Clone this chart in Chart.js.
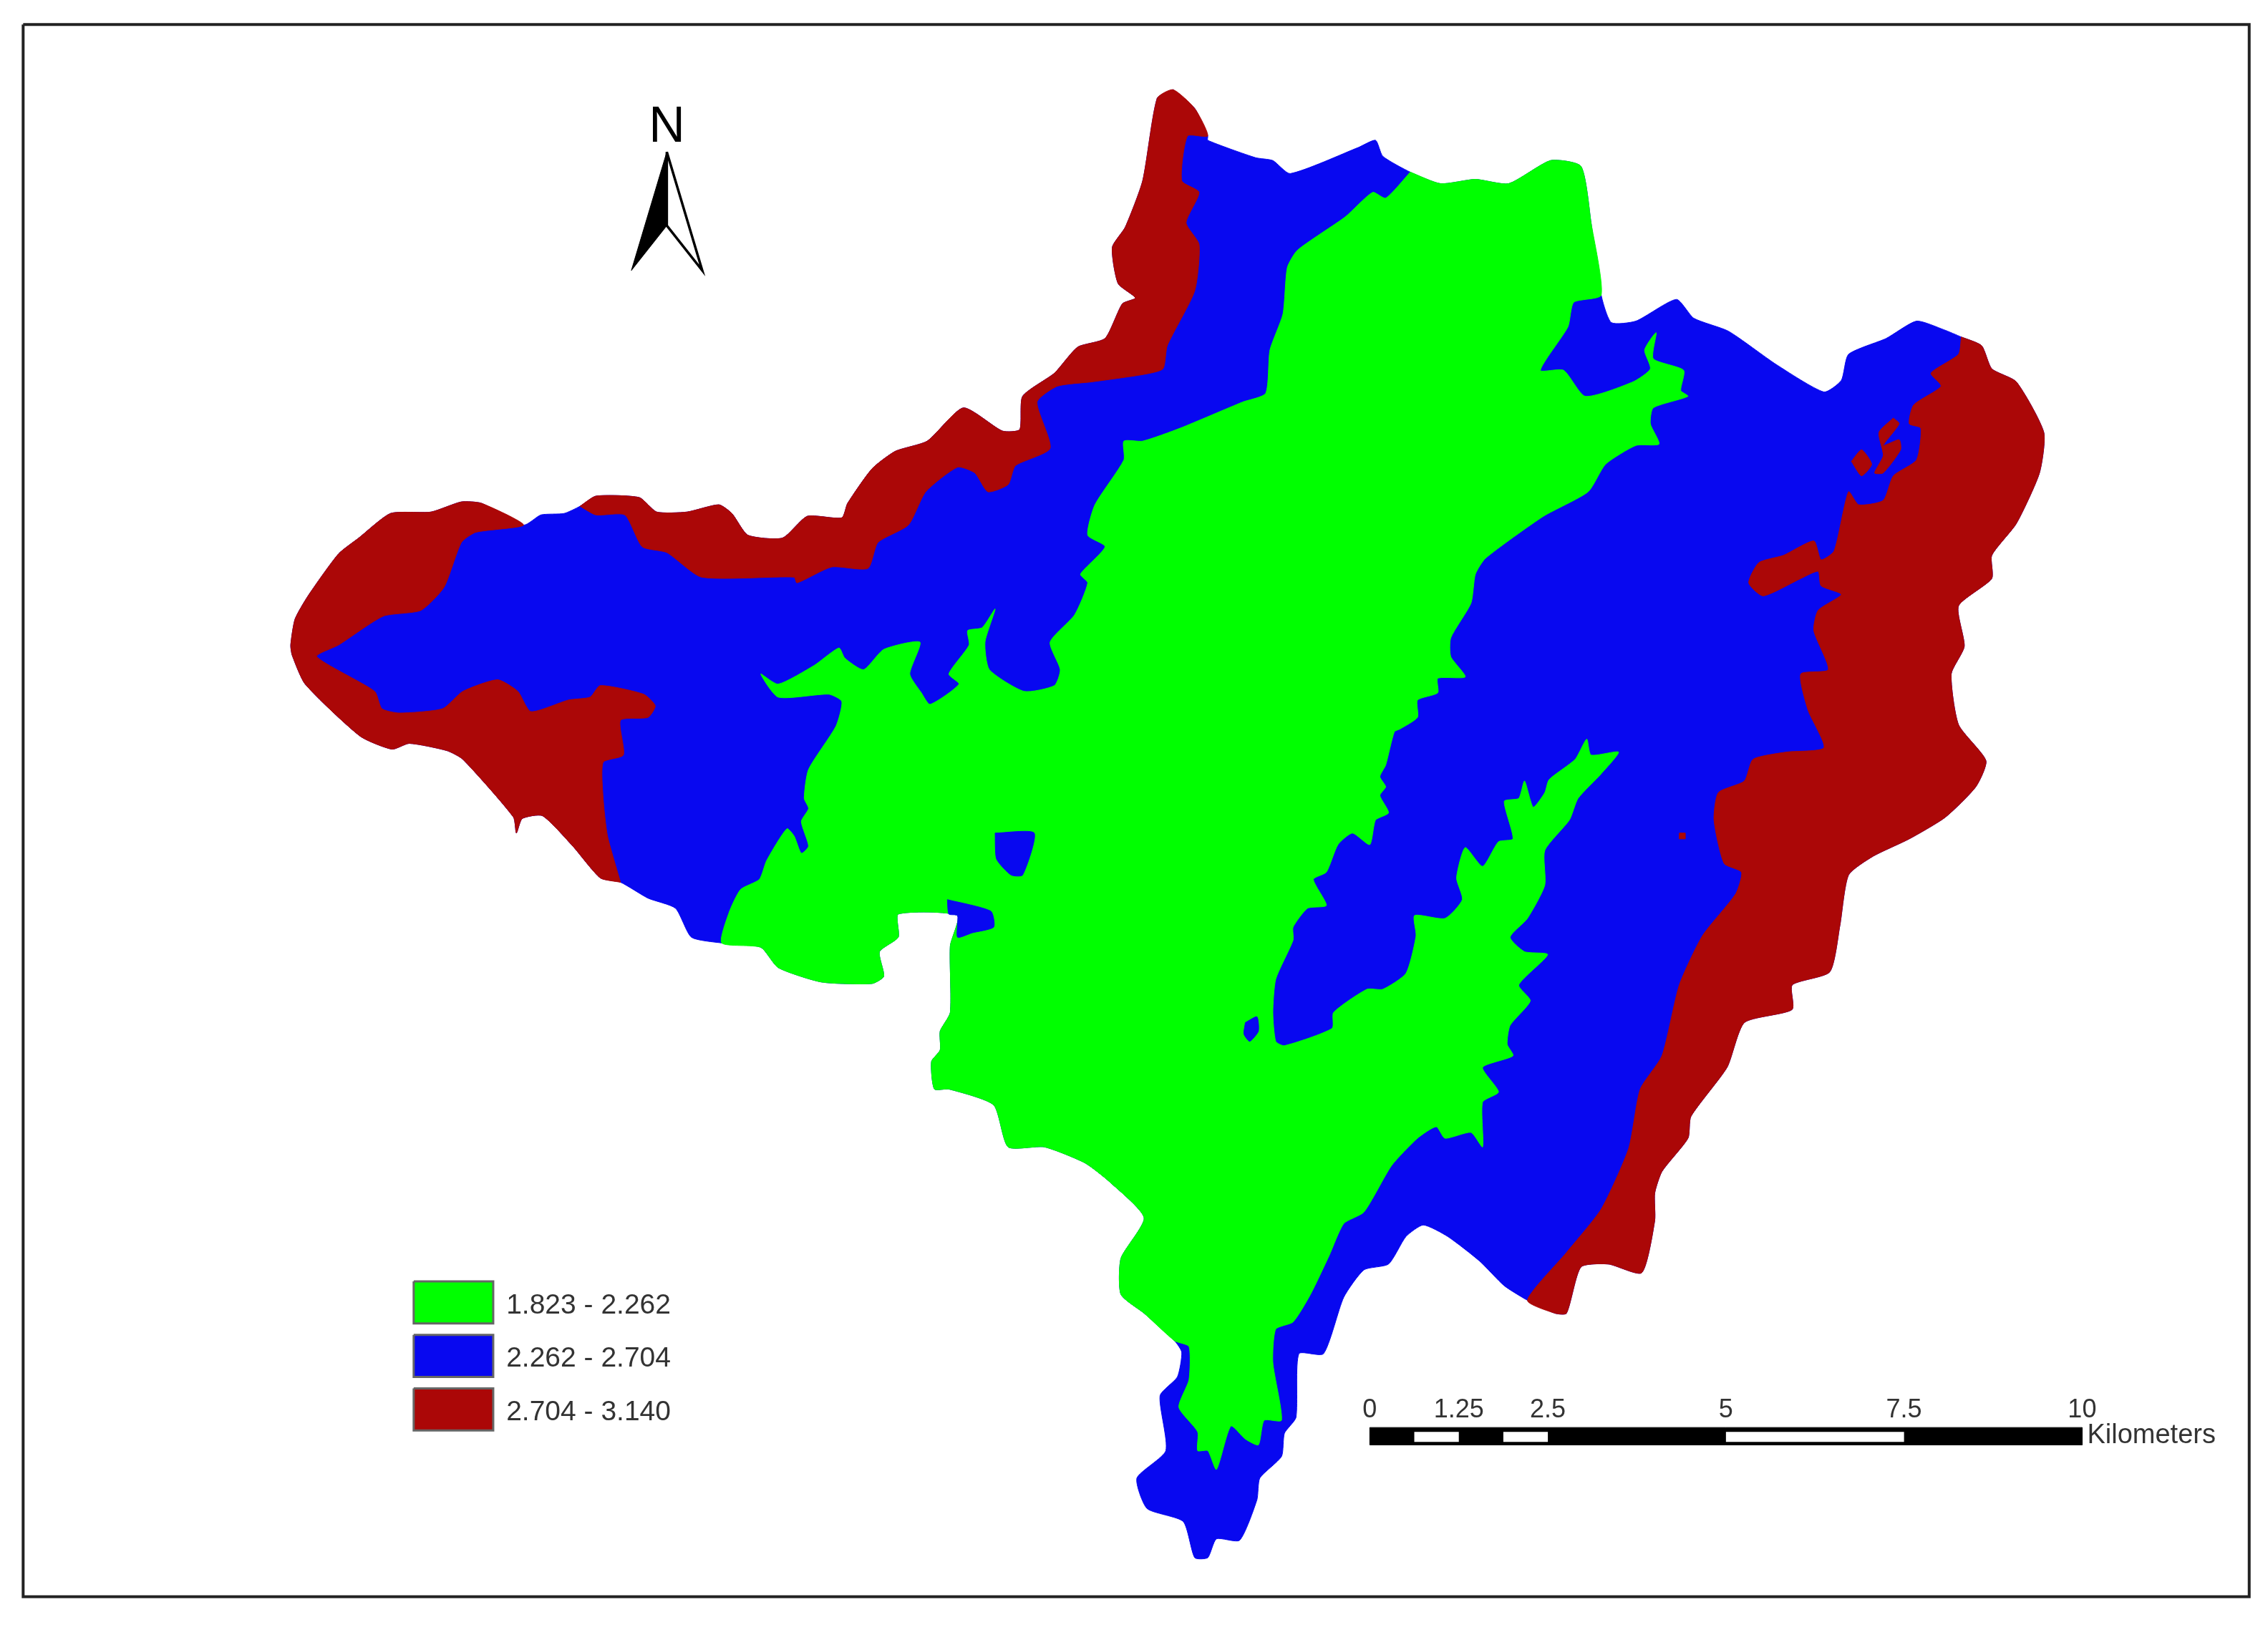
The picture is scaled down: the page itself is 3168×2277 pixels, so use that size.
<!DOCTYPE html>
<html>
<head>
<meta charset="utf-8">
<title>Map</title>
<script src="https://cdn.jsdelivr.net/npm/chart.js@4/dist/chart.umd.min.js"></script>
<style>
  html, body { margin: 0; padding: 0; background: #fff; }
  #wrap { width: 3168px; height: 2277px; }
</style>
</head>
<body>
<div id="wrap"><canvas id="mapChart"></canvas></div>
<script>
// class limits
const classLabels = ["1.823 - 2.262", "2.262 - 2.704", "2.704 - 3.140"]
// scale bar divisions in km
const barKm = [0, 0.625, 1.25, 1.875, 2.5, 5, 7.5, 10]
const barTicks = ["0", "1.25", "2.5", "5", "7.5", "10"]
const barTickKm = [0, 1.25, 2.5, 5, 7.5, 10]

const basinOutline = [[811,62],[826,75],[835,94],[835,97],[868,109],[880,111],[892,120],[939,102],[951,97],[956,108],[975,119],[996,127],[1020,124],[1043,127],[1072,111],[1093,115],[1100,154],[1107,204],[1114,223],[1131,222],[1159,207],[1171,220],[1195,229],[1228,252],[1261,271],[1273,263],[1278,245],[1304,234],[1325,222],[1344,228],[1356,233],[1370,239],[1377,255],[1394,264],[1413,299],[1410,327],[1394,362],[1377,384],[1377,400],[1354,419],[1358,447],[1349,466],[1354,501],[1373,526],[1366,544],[1345,565],[1320,580],[1295,592],[1278,605],[1272,640],[1265,672],[1239,681],[1239,698],[1206,707],[1194,738],[1169,772],[1167,787],[1149,810],[1144,825],[1144,844],[1135,880],[1112,874],[1093,876],[1083,908],[1075,908],[1056,899],[1040,889],[1023,872],[1001,855],[984,847],[972,855],[960,874],[943,878],[929,897],[915,936],[898,936],[896,980],[888,991],[886,1007],[871,1022],[869,1037],[857,1065],[841,1064],[835,1077],[826,1077],[818,1052],[793,1043],[786,1022],[806,1003],[802,965],[814,952],[817,935],[812,927],[791,908],[775,895],[775,870],[791,842],[767,817],[750,804],[722,793],[697,793],[687,764],[656,753],[646,753],[644,734],[650,726],[650,713],[657,700],[657,654],[662,633],[621,632],[621,648],[608,658],[611,675],[603,680],[568,679],[538,669],[526,655],[499,652],[478,648],[467,628],[448,621],[429,610],[415,607],[396,585],[375,564],[361,566],[357,576],[355,565],[320,525],[309,519],[283,514],[271,518],[249,509],[211,473],[202,453],[201,446],[204,428],[213,412],[234,383],[248,372],[270,355],[298,354],[319,347],[333,348],[362,363],[374,356],[390,355],[401,350],[412,343],[442,344],[454,354],[475,354],[497,349],[506,355],[517,370],[541,372],[558,357],[582,358],[586,348],[603,324],[619,312],[641,305],[666,282],[693,298],[705,297],[707,274],[729,258],[745,240],[764,234],[776,210],[785,206],[773,196],[769,171],[778,157],[790,125],[800,68]]

const redWest = [[429,610],[415,607],[396,585],[375,564],[361,566],[357,576],[355,565],[320,525],[309,519],[283,514],[271,518],[249,509],[211,473],[202,453],[201,446],[204,428],[213,412],[234,383],[248,372],[270,355],[298,354],[319,347],[333,348],[362,363],[329,368],[319,375],[307,406],[291,422],[265,426],[234,446],[219,454],[259,478],[264,490],[276,493],[306,490],[320,478],[344,470],[358,478],[367,492],[393,484],[408,482],[415,474],[445,480],[453,488],[448,496],[429,498],[431,522],[417,527],[417,552],[420,578]]

const redNorth = [[401,350],[412,343],[442,344],[454,354],[475,354],[497,349],[506,355],[517,370],[541,372],[558,357],[582,358],[586,348],[603,324],[619,312],[641,305],[666,282],[693,298],[705,297],[707,274],[729,258],[745,240],[764,234],[776,210],[785,206],[773,196],[769,171],[778,157],[790,125],[800,68],[811,62],[826,75],[835,94],[821,94],[817,125],[829,133],[820,154],[829,169],[826,201],[807,239],[804,255],[790,259],[755,264],[731,267],[717,278],[726,310],[702,322],[697,335],[683,340],[674,327],[662,323],[640,340],[628,363],[607,375],[600,393],[575,392],[551,403],[549,399],[485,399],[461,382],[444,378],[432,356],[412,356]]

const redEast = [[1356,233],[1370,239],[1377,255],[1394,264],[1413,299],[1410,327],[1394,362],[1377,384],[1377,400],[1354,419],[1358,447],[1349,466],[1354,501],[1373,526],[1366,544],[1345,565],[1320,580],[1295,592],[1278,605],[1272,640],[1265,672],[1239,681],[1239,698],[1206,707],[1194,738],[1169,772],[1167,787],[1149,810],[1144,825],[1144,844],[1135,880],[1112,874],[1093,876],[1083,908],[1075,908],[1056,899],[1083,866],[1107,836],[1126,794],[1134,753],[1149,730],[1161,681],[1177,647],[1200,618],[1204,603],[1192,597],[1185,567],[1188,548],[1206,540],[1212,525],[1235,520],[1261,517],[1250,491],[1245,466],[1264,463],[1254,436],[1257,422],[1273,411],[1259,405],[1257,395],[1245,400],[1219,412],[1209,403],[1216,389],[1233,384],[1254,374],[1259,387],[1268,381],[1278,340],[1285,349],[1302,346],[1309,329],[1325,318],[1328,296],[1320,293],[1323,280],[1342,267],[1335,258],[1354,245]]

const redOval = [[1280,319],[1287,311],[1294,321],[1287,329]]
const redSliver = [[1309,289],[1313,293],[1302,308],[1313,304],[1314,311],[1302,327],[1296,327],[1302,315],[1299,299]]
const redSpeck = [[1161,576],[1165,576],[1165,580],[1161,580]]

const greenMain = [[975,119],[996,127],[1020,124],[1043,127],[1072,111],[1093,115],[1100,154],[1107,204],[1088,209],[1084,226],[1065,256],[1081,256],[1096,274],[1129,264],[1141,255],[1137,242],[1145,230],[1143,248],[1164,256],[1162,270],[1167,274],[1143,282],[1141,293],[1147,307],[1131,308],[1110,321],[1098,340],[1067,357],[1027,386],[1020,397],[1017,417],[1003,441],[1003,454],[1013,468],[994,469],[994,479],[980,484],[980,496],[968,504],[964,506],[958,529],[954,537],[958,544],[954,550],[960,562],[951,567],[947,584],[935,576],[925,584],[917,603],[908,608],[917,626],[904,628],[894,641],[894,650],[882,677],[880,700],[882,720],[888,723],[921,711],[922,700],[945,684],[956,684],[972,673],[979,647],[978,633],[999,635],[1011,622],[1007,607],[1013,586],[1025,599],[1036,582],[1046,580],[1040,554],[1050,552],[1054,540],[1060,558],[1068,548],[1071,539],[1089,525],[1097,511],[1100,522],[1119,520],[1107,535],[1091,552],[1085,567],[1068,588],[1068,612],[1056,635],[1044,648],[1054,658],[1070,660],[1050,681],[1058,692],[1044,709],[1042,722],[1046,730],[1025,738],[1036,755],[1025,762],[1025,793],[1017,783],[999,787],[993,779],[980,787],[962,806],[943,838],[929,846],[919,868],[906,895],[894,914],[882,919],[880,942],[886,982],[874,982],[870,999],[861,995],[851,986],[841,1016],[835,1003],[828,1003],[828,990],[815,973],[822,954],[822,931],[812,927],[791,908],[775,895],[775,870],[791,842],[767,817],[750,804],[722,793],[697,793],[687,764],[656,753],[646,753],[644,734],[650,726],[650,713],[657,700],[657,654],[662,633],[621,632],[621,648],[608,658],[611,675],[603,680],[568,679],[538,669],[526,655],[499,652],[504,631],[512,615],[525,608],[530,595],[544,573],[549,578],[554,590],[559,585],[554,568],[559,559],[556,552],[559,532],[578,502],[582,485],[573,480],[538,482],[526,466],[538,473],[563,460],[580,448],[584,455],[597,463],[611,449],[636,444],[629,466],[637,479],[643,487],[663,473],[656,466],[670,446],[669,436],[679,434],[688,421],[681,444],[684,463],[708,478],[729,474],[733,463],[726,444],[743,425],[752,403],[747,397],[764,378],[752,370],[757,349],[777,318],[777,305],[790,305],[816,296],[859,278],[875,272],[878,242],[887,217],[890,185],[897,173],[930,150],[949,133],[958,137]]

const blueIslandA = [[688,576],[715,576],[707,605],[699,605],[689,594]]
const blueIslandB = [[655,622],[685,630],[687,641],[672,645],[662,648],[662,633],[656,632]]
const blueIslandC = [[861,707],[869,703],[870,713],[864,720],[860,715]]

// north arrow
const arrowBlack = [[461,105],[461,156],[436.5,187]]
const arrowWhite = [[461,105],[485.5,187],[461,156]]

const colors = { green: "#00ff00", blue: "#0808f0", red: "#ab0707" }
const straight = { tension: 0 }

function box(x0, y0, x1, y1) {
  return [[x0, y0], [x1, y0], [x1, y1], [x0, y1]]
}

function zone(points, color, extra) {
  const ring = points.concat([points[0]])
  return Object.assign({
    data: ring.map((p) => ({ x: p[0], y: p[1] })),
    showLine: true,
    fill: "shape",
    backgroundColor: color,
    borderColor: color,
    borderWidth: 1,
    pointRadius: 0,
    tension: 0.2,
    clip: false,
  }, extra || {})
}

const kmUnit = 49.25
const barLeft = 947
const kmX = (km) => barLeft + km * kmUnit

// scale bar: black base with the white cells on top
const barCells = [
  box(kmX(barKm[1]), 990, kmX(barKm[2]), 997),
  box(kmX(barKm[3]), 990, kmX(barKm[4]), 997),
  box(kmX(barKm[5]), 990, kmX(barKm[6]), 997),
]

const legendRows = [886, 923, 960]
const legendColors = [colors.green, colors.blue, colors.red]

// bottom layer first, the list gets flipped below since Chart.js paints dataset 0 last
const layers = [
  zone(basinOutline, colors.blue),
  zone(redWest, colors.red),
  zone(redNorth, colors.red),
  zone(redEast, colors.red),
  zone(redOval, colors.red),
  zone(redSliver, colors.red),
  zone(redSpeck, colors.red, straight),
  zone(greenMain, colors.green),
  zone(blueIslandA, colors.blue),
  zone(blueIslandB, colors.blue),
  zone(blueIslandC, colors.blue),
  zone(arrowBlack, "#000", straight),
  zone(arrowWhite, "#fff", { borderColor: "#000", borderWidth: 3.5, tension: 0 }),
  zone(box(kmX(0), 987, kmX(10), 999), "#000", straight),
]
barCells.forEach((c) => layers.push(zone(c, "#fff", { borderColor: "#fff", borderWidth: 0, tension: 0 })))
legendRows.forEach((top, i) => {
  layers.push(zone(box(286, top, 341, top + 29), legendColors[i], { borderColor: "#666", borderWidth: 3, tension: 0 }))
})
// map frame
layers.push(zone(box(16, 17, 1555, 1104), "rgba(0,0,0,0)", { borderColor: "#222", borderWidth: 4, tension: 0 }))

const datasets = layers.slice().reverse()

// map text (north letter, legend labels, scale bar labels)
const mapText = {
  id: "mapText",
  afterDatasetsDraw(chart) {
    const { ctx, scales } = chart
    const put = (text, x, y, size, align, color) => {
      ctx.font = size + 'px "Liberation Sans", Arial, sans-serif'
      ctx.textAlign = align
      ctx.textBaseline = "alphabetic"
      ctx.fillStyle = color
      ctx.fillText(text, scales.x.getPixelForValue(x), scales.y.getPixelForValue(y))
    }
    put("N", 461, 98, 70, "center", "#000")
    classLabels.forEach((label, i) => put(label, 350, legendRows[i] + 22, 39, "left", "#333"))
    barTicks.forEach((t, i) => put(t, kmX(barTickKm[i]), 980, 36, "center", "#333"))
    put("Kilometers", 1443, 998, 38, "left", "#333")
  },
}

document.addEventListener("DOMContentLoaded", () => {
  const canvas = document.getElementById("mapChart")
  new Chart(canvas.getContext("2d"), {
    type: "scatter",
    data: { datasets },
    options: {
      responsive: true,
      maintainAspectRatio: false,
      animation: false,
      devicePixelRatio: 1,
      layout: { padding: 0 },
      scales: {
        x: { type: "linear", display: false, min: 0, max: 1568 },
        y: { type: "linear", display: false, min: 0, max: 1127, reverse: true },
      },
      plugins: {
        legend: { display: false },
        tooltip: { enabled: false },
      },
    },
    plugins: [mapText],
  })
})
</script>
</body>
</html>
